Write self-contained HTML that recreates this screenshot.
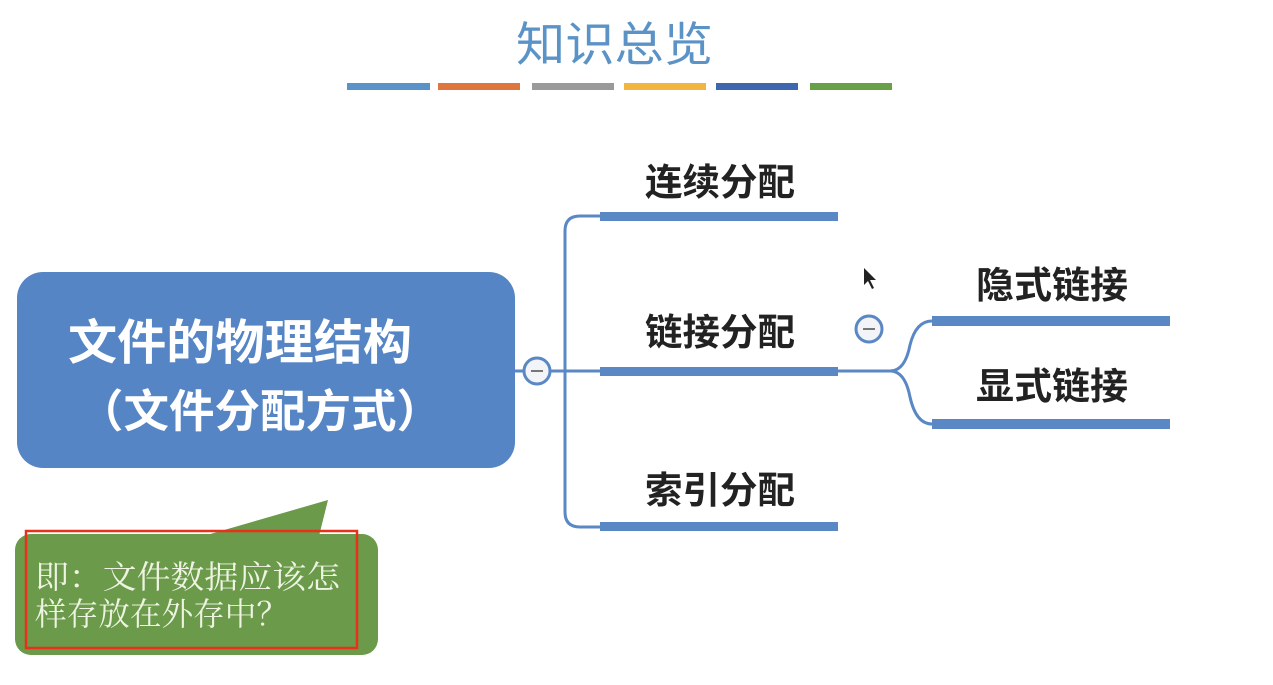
<!DOCTYPE html>
<html><head><meta charset="utf-8"><style>
html,body{margin:0;padding:0;background:#fff;}
svg{display:block;}
.s{font-family:"Liberation Sans","Noto Sans CJK SC",sans-serif;}
.r{font-family:"Liberation Serif","Noto Serif CJK SC",serif;}
</style></head><body>
<svg width="1273" height="685" viewBox="0 0 1273 685" xmlns="http://www.w3.org/2000/svg">
<text x="516" y="61" class="s" font-size="47" fill="#5b93c7" textLength="197" lengthAdjust="spacingAndGlyphs">知识总览</text>
<g>
<rect x="347" y="83" width="83" height="7" fill="#5a93c8"/>
<rect x="438" y="83" width="82" height="7" fill="#df7640"/>
<rect x="532" y="83" width="82" height="7" fill="#9a9a9a"/>
<rect x="624" y="83" width="82" height="7" fill="#f3b542"/>
<rect x="716" y="83" width="82" height="7" fill="#3d68b0"/>
<rect x="810" y="83" width="82" height="7" fill="#67a046"/>
</g>
<rect x="17" y="272" width="498" height="196" rx="26" fill="#5585c5"/>
<text x="68" y="359" class="s" font-size="48" font-weight="bold" fill="#fff" textLength="344" lengthAdjust="spacingAndGlyphs">文件的物理结构</text>
<text x="78" y="427" class="s" font-size="45" font-weight="bold" fill="#fff" textLength="364" lengthAdjust="spacingAndGlyphs">（文件分配方式）</text>
<g fill="none" stroke="#5a88c4" stroke-width="3">
<line x1="515" y1="371" x2="838" y2="371"/>
<path d="M600 216 H580 Q565 216 565 231 V512 Q565 527 580 527 H600"/>
<path d="M838 371 H890 Q905 371 910 345 Q916 321 932 321"/>
<path d="M890 371 Q905 371 910 397 Q916 424 932 424"/>
</g>
<rect x="600" y="212" width="238" height="9" fill="#5a88c4"/>
<rect x="600" y="367" width="238" height="9" fill="#5a88c4"/>
<rect x="600" y="522" width="238" height="9" fill="#5a88c4"/>
<rect x="932" y="316" width="238" height="10" fill="#5a88c4"/>
<rect x="932" y="419" width="238" height="10" fill="#5a88c4"/>
<circle cx="537" cy="371" r="13" fill="#f2f4f8" stroke="#5a88c4" stroke-width="3"/>
<line x1="531" y1="371" x2="543" y2="371" stroke="#777" stroke-width="2"/>
<circle cx="869" cy="329" r="13" fill="#f2f4f8" stroke="#5a88c4" stroke-width="3"/>
<line x1="863" y1="329" x2="875" y2="329" stroke="#777" stroke-width="2"/>
<g class="s" font-size="37" font-weight="bold" fill="#222">
<text x="645" y="195" textLength="150" lengthAdjust="spacingAndGlyphs">连续分配</text>
<text x="645" y="345" textLength="150" lengthAdjust="spacingAndGlyphs">链接分配</text>
<text x="645" y="503" textLength="150" lengthAdjust="spacingAndGlyphs">索引分配</text>
<text x="976" y="298" textLength="152" lengthAdjust="spacingAndGlyphs">隐式链接</text>
<text x="976" y="399" textLength="152" lengthAdjust="spacingAndGlyphs">显式链接</text>
</g>
<path d="M864 268 L864 285 L868 281 L872 289 L874 288 L870 280 L876 280 Z" fill="#222"/>
<path d="M200 537 L328 500 L318 540 Z" fill="#6a9a4a"/>
<rect x="15" y="534" width="363" height="121" rx="16" fill="#6a9a4a"/>
<rect x="26" y="531" width="331" height="117" fill="none" stroke="#e8301a" stroke-width="2.5"/>
<text x="35" y="588" class="r" font-size="32" fill="#eef3e2" textLength="305" lengthAdjust="spacingAndGlyphs">即：文件数据应该怎</text>
<text x="35" y="625" class="r" font-size="32" fill="#eef3e2" textLength="253" lengthAdjust="spacingAndGlyphs">样存放在外存中？</text>
</svg>
</body></html>
